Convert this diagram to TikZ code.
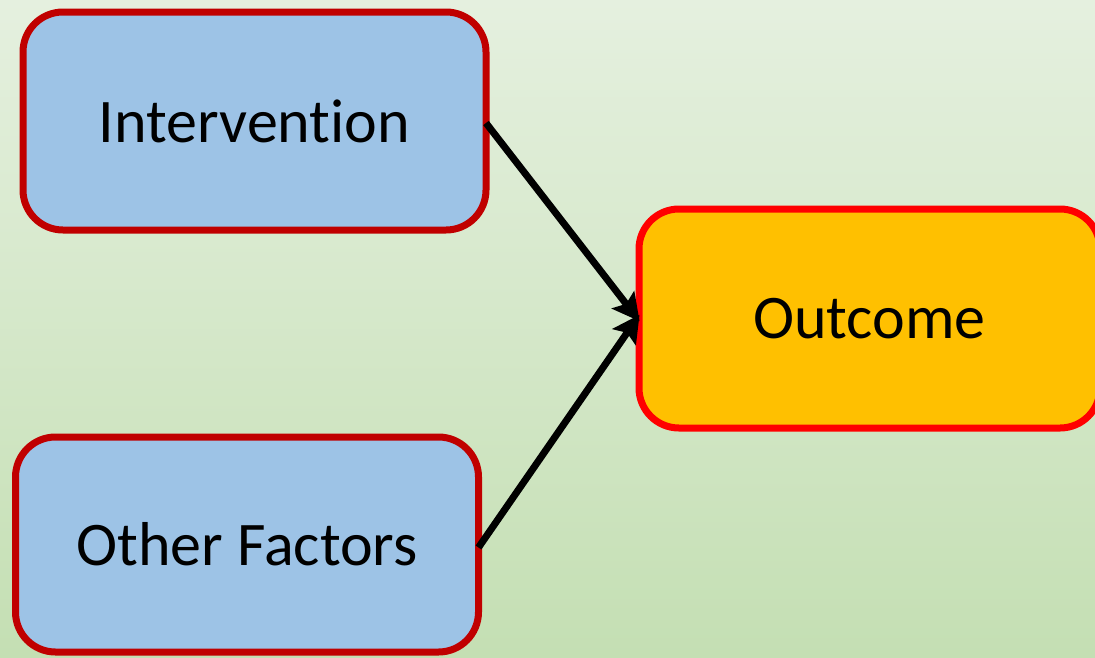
\documentclass[tikz,border=0pt]{standalone}
\usepackage{fontspec}
\setmainfont{Carlito}[Ligatures={NoCommon}]
\usetikzlibrary{arrows.meta}
\definecolor{bgtop}{HTML}{E5F0DF}
\definecolor{bgbot}{HTML}{C4DFB3}
\definecolor{boxblue}{HTML}{9DC3E6}
\definecolor{darkred}{HTML}{C00000}
\definecolor{amber}{HTML}{FFC000}
\begin{document}
\begin{tikzpicture}[x=1pt,y=-1pt,
  factor/.style={draw=darkred, fill=boxblue, line width=7pt, rounded corners=40pt,
    outer sep=0pt, inner sep=0pt, font=\fontsize{62}{70}\selectfont},
  result/.style={factor, draw=red, fill=amber},
  link/.style={line width=7pt, -{Stealth[length=27pt,width=28pt,inset=5pt]}, shorten >=-1pt}]
  % background with vertical gradient
  \shade[top color=bgtop, bottom color=bgbot] (0,0) rectangle (1095,657);
  \useasboundingbox (0,0) rectangle (1095,657);
  \node[factor, minimum width=463pt, minimum height=218pt] (int) at (254.5,121) {Intervention};
  \node[factor, minimum width=463pt, minimum height=215pt] (oth) at (247,544.5) {Other Factors};
  \node[result, minimum width=461pt, minimum height=219pt] (out) at (869.5,318.5) {Outcome};
  \draw[link] ([yshift=-2pt]int.east) -- ([yshift=-2pt]out.west);
  \draw[link] ([yshift=-3pt]oth.east) -- ([yshift=3pt]out.west);
\end{tikzpicture}
\end{document}
